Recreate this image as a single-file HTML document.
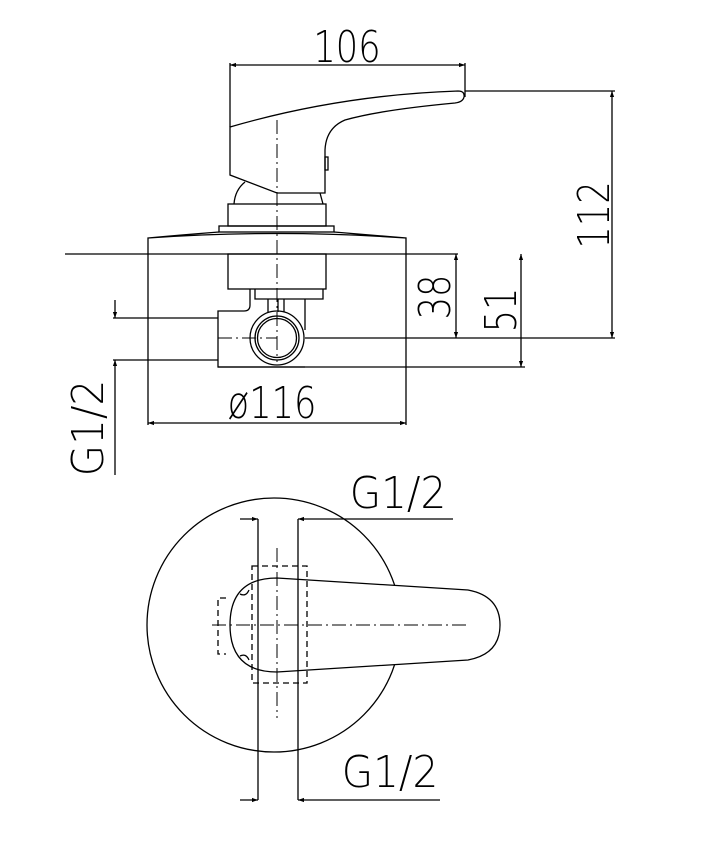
<!DOCTYPE html>
<html><head><meta charset="utf-8"><style>
html,body{margin:0;padding:0;background:#fff;}
svg{display:block}
text{font-family:"DejaVu Sans","Liberation Sans",sans-serif;font-weight:200;fill:#000}
</style></head><body>
<svg width="708" height="841" viewBox="0 0 708 841" xmlns="http://www.w3.org/2000/svg">
<defs>
<marker id="a" viewBox="0 0 10 10" refX="10" refY="5" markerWidth="10" markerHeight="6" orient="auto-start-reverse" markerUnits="userSpaceOnUse"><path d="M0,1.5 L10,5 L0,8.5 z" fill="#000"/></marker>
</defs>
<g fill="none" stroke="#000" stroke-width="1.3">
<path d="M230,127 Q340,95 458,91 Q465,91 464,97 Q463,102 455,103 Q380,110 345,120 Q326,128 325,150 L325,193 L277,193 L230,175 Z"/>
<rect x="325" y="157" width="3" height="13"/>
<path d="M234,204 Q235,190 245,182"/>
<path d="M320,193 L323,204"/>
<rect x="228" y="204" width="98" height="22"/>
<rect x="219" y="226" width="115" height="6"/>
<path d="M148,254 L148,238 Q180,235 219,232 M334,232 Q370,235 406,238 L406,254 M148,238 Q277,229 406,238"/>
<line x1="65" y1="254" x2="458" y2="254"/>
<line x1="148" y1="254" x2="148" y2="425"/>
<line x1="406" y1="254" x2="406" y2="425"/>
<rect x="228" y="254" width="98" height="35"/>
<path d="M255,289 L255,299 L323,299 L323,289"/>
<path d="M268,299 L268,312 M278,299 L278,312 M284,299 L284,312 M305,299 L305,330"/>
<path d="M250,289 L250,305 Q250,311 244,311 L218,311 L218,367 L305,367"/>
<circle cx="277" cy="338" r="27"/>
<circle cx="277" cy="338" r="22"/>
<circle cx="277" cy="338" r="19.5"/>
<line x1="305" y1="338" x2="615" y2="338"/>
<line x1="218" y1="367" x2="525" y2="367"/>
<line x1="465" y1="91" x2="615" y2="91"/>
<line x1="113" y1="318" x2="218" y2="318"/>
<line x1="113" y1="360" x2="218" y2="360"/>
<line x1="230" y1="127" x2="230" y2="63"/>
<line x1="465" y1="97" x2="465" y2="63"/>
<line x1="230" y1="65" x2="465" y2="65" marker-start="url(#a)" marker-end="url(#a)"/>
<line x1="612" y1="91" x2="612" y2="338" marker-start="url(#a)" marker-end="url(#a)"/>
<line x1="456" y1="254" x2="456" y2="338" marker-start="url(#a)" marker-end="url(#a)"/>
<line x1="521" y1="254" x2="521" y2="367" marker-start="url(#a)" marker-end="url(#a)"/>
<line x1="148" y1="423" x2="406" y2="423" marker-start="url(#a)" marker-end="url(#a)"/>
<line x1="115" y1="300" x2="115" y2="318" marker-end="url(#a)"/>
<line x1="115" y1="475" x2="115" y2="360" marker-end="url(#a)"/>
<circle cx="274" cy="625" r="127"/>
<path d="M277,578 L468,590 Q500,596 500,625 Q500,654 468,660 L277,672 Q230,672 230,625 Q230,578 277,578 Z" fill="#fff"/>
<path d="M240,594 Q246,597 249,590 M240,656 Q246,653 249,660"/>
<rect x="252" y="566" width="55" height="117" stroke-dasharray="6,4"/>
<path d="M226,598 L218,598 L218,654 L226,654" stroke-dasharray="6,4"/>
<line x1="258" y1="519" x2="258" y2="800"/>
<line x1="298" y1="519" x2="298" y2="800"/>
<line x1="240" y1="519" x2="258" y2="519" marker-end="url(#a)"/>
<line x1="453" y1="519" x2="298" y2="519" marker-end="url(#a)"/>
<line x1="240" y1="800" x2="258" y2="800" marker-end="url(#a)"/>
<line x1="440" y1="800" x2="298" y2="800" marker-end="url(#a)"/>
</g>
<g fill="none" stroke="#000" stroke-width="1" stroke-dasharray="14,4,2,4">
<line x1="277" y1="120" x2="277" y2="362"/>
<line x1="218" y1="338" x2="277" y2="338"/>
<line x1="212" y1="625" x2="470" y2="625"/>
<line x1="277" y1="548" x2="277" y2="718"/>
</g>
<g font-size="44">
<text transform="translate(347,62) scale(0.8,1)" text-anchor="middle">106</text>
<text transform="translate(272,418) scale(0.8,1)" text-anchor="middle">ø116</text>
<text transform="translate(450,297) rotate(-90) scale(0.8,1)" text-anchor="middle">38</text>
<text transform="translate(516,310) rotate(-90) scale(0.8,1)" text-anchor="middle">51</text>
<text transform="translate(609,215) rotate(-90) scale(0.8,1)" text-anchor="middle">112</text>
<text transform="translate(103,428) rotate(-90) scale(0.92,1)" text-anchor="middle">G1/2</text>
<text transform="translate(398,508) scale(0.92,1)" text-anchor="middle">G1/2</text>
<text transform="translate(390,787) scale(0.92,1)" text-anchor="middle">G1/2</text>
</g>
</svg>
</body></html>
